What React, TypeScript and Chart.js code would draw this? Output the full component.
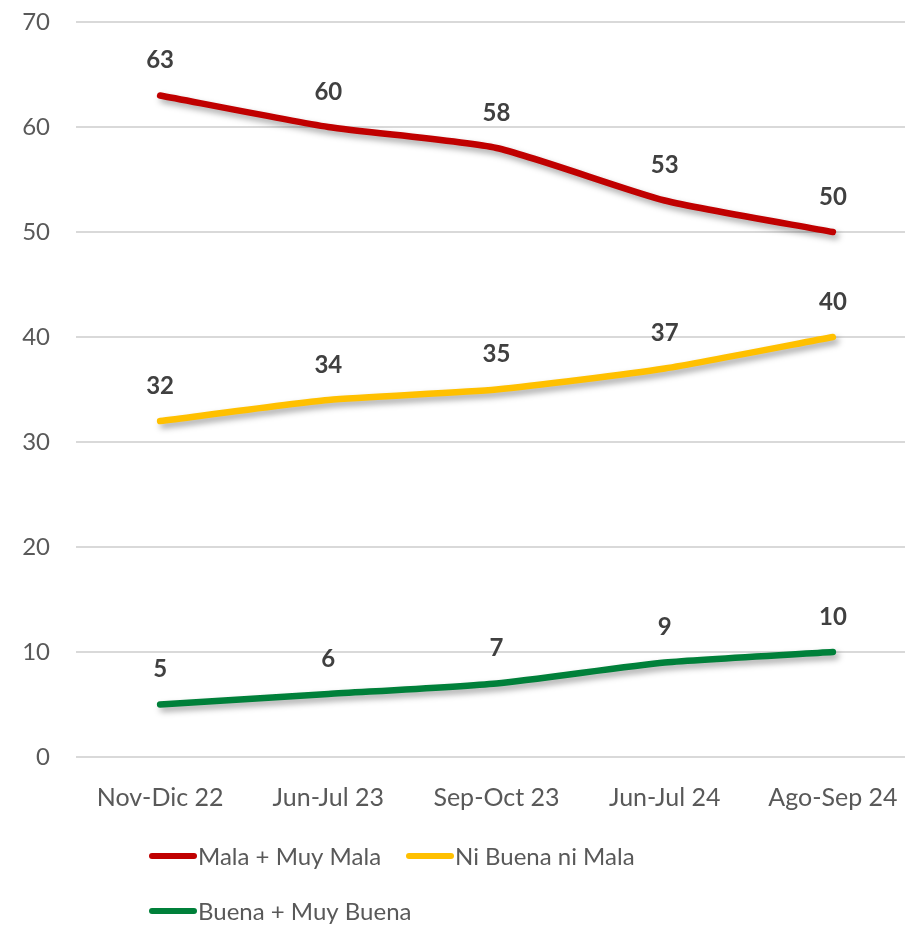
import React, { useEffect, useRef } from "react";
import { Chart, registerables } from "chart.js";

Chart.register(...registerables);

const categories = ["Nov-Dic 22", "Jun-Jul 23", "Sep-Oct 23", "Jun-Jul 24", "Ago-Sep 24"];
const malaMuyMala = [63, 60, 58, 53, 50];
const niBuenaNiMala = [32, 34, 35, 37, 40];
const buenaMuyBuena = [5, 6, 7, 9, 10];
const seriesNames = ["Mala + Muy Mala", "Ni Buena ni Mala", "Buena + Muy Buena"];
const yTicks = [0, 10, 20, 30, 40, 50, 60, 70];

const COLORS = ["#C00000", "#FFC000", "#00803A"];
const FONT = "Lato, 'Open Sans', sans-serif";

const shadowPlugin = {
  id: "lineShadow",
  beforeDatasetDraw(chart: any) {
    const ctx = chart.ctx;
    ctx.save();
    ctx.shadowColor = "rgba(0,0,0,0.35)";
    ctx.shadowBlur = 6;
    ctx.shadowOffsetX = 3;
    ctx.shadowOffsetY = 4;
  },
  afterDatasetDraw(chart: any) {
    chart.ctx.restore();
  },
};

const labelsPlugin = {
  id: "valueLabels",
  afterDatasetsDraw(chart: any) {
    const ctx = chart.ctx;
    ctx.save();
    ctx.font = `bold 24px ${FONT}`;
    ctx.fillStyle = "#404040";
    ctx.textAlign = "center";
    ctx.textBaseline = "middle";
    chart.data.datasets.forEach((ds: any, i: number) => {
      const meta = chart.getDatasetMeta(i);
      meta.data.forEach((pt: any, j: number) => {
        ctx.fillText(String(ds.data[j]), pt.x, pt.y - 35);
      });
    });
    ctx.restore();
  },
};

const legendPlugin = {
  id: "customLegend",
  afterDraw(chart: any) {
    const ctx = chart.ctx;
    ctx.save();
    ctx.font = `24px ${FONT}`;
    ctx.textBaseline = "middle";
    ctx.textAlign = "left";
    chart.data.datasets.forEach((ds: any, i: number) => {
      const col = i % 2;
      const row = Math.floor(i / 2);
      const x = 152 + col * 257;
      const y = 856 + row * 55;
      ctx.strokeStyle = ds.borderColor;
      ctx.lineWidth = 6;
      ctx.lineCap = "round";
      ctx.beginPath();
      ctx.moveTo(x, y);
      ctx.lineTo(x + 42, y);
      ctx.stroke();
      ctx.fillStyle = "#595959";
      ctx.fillText(ds.label, x + 46, y + 1);
    });
    ctx.restore();
  },
};

export default function App() {
  const ref = useRef<HTMLCanvasElement | null>(null);
  useEffect(() => {
    if (!ref.current) return;
    const chart = new Chart(ref.current, {
      type: "line",
      data: {
        labels: categories,
        datasets: [malaMuyMala, niBuenaNiMala, buenaMuyBuena].map((d, i) => ({
          label: seriesNames[i],
          data: d,
          borderColor: COLORS[i],
          backgroundColor: COLORS[i],
          borderWidth: 6.5,
          borderCapStyle: "round",
          borderJoinStyle: "round",
          pointRadius: 0,
          tension: 0.2,
          fill: false,
        })),
      },
      options: {
        animation: false,
        responsive: false,
        maintainAspectRatio: false,
        layout: { padding: { top: 22, bottom: 110, left: 0, right: 0 } },
        plugins: { legend: { display: false }, tooltip: { enabled: false } },
        scales: {
          x: {
            offset: true,
            grid: { display: false, drawTicks: false },
            border: { display: false },
            ticks: { font: { family: FONT, size: 25 }, color: "#595959", padding: 26, maxRotation: 0 },
            afterFit: (s: any) => {
              s.height = 60;
              s.paddingLeft = 0;
              s.paddingRight = 0;
            },
          },
          y: {
            min: 0,
            max: 70,
            afterBuildTicks: (s: any) => { s.ticks = yTicks.map((v) => ({ value: v })); },
            grid: { color: "#D9D9D9", lineWidth: 2, drawTicks: false },
            border: { display: false },
            ticks: { font: { family: FONT, size: 24 }, color: "#595959", padding: 26 },
            afterFit: (s: any) => {
              s.width = 76;
              s.paddingTop = 0;
              s.paddingBottom = 0;
            },
          },
        },
      },
      plugins: [shadowPlugin, labelsPlugin, legendPlugin],
    });
    return () => chart.destroy();
  }, []);
  return (
    <div style={{ position: "absolute", left: 0, top: 0, width: 905, height: 927, overflow: "hidden", background: "#fff" }}>
      <canvas ref={ref} width={917} height={927} style={{ display: "block", width: 917, height: 927 }} />
    </div>
  );
}
